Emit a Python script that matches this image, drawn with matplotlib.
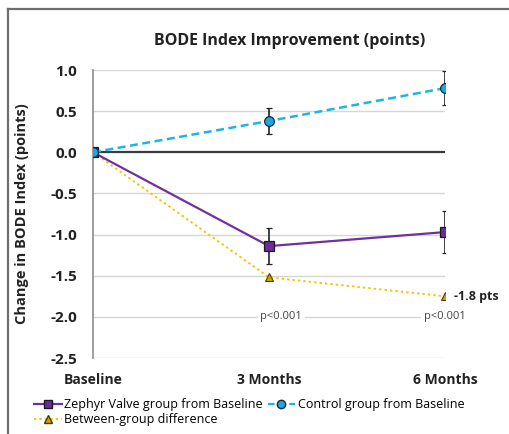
import matplotlib
matplotlib.use("Agg")
import matplotlib.pyplot as plt
from matplotlib.lines import Line2D

plt.rcParams['font.family'] = ['Open Sans', 'DejaVu Sans']

categories = ["Baseline", "3 Months", "6 Months"]
zephyr = [0.0, -1.14, -0.97]
zephyr_err = [0.0, 0.22, 0.26]
control = [0.0, 0.38, 0.78]
control_err = [0.0, 0.16, 0.21]
between = [0.0, -1.52, -1.75]
p_labels = ["p<0.001", "p<0.001"]
end_label = "-1.8 pts"
yticks = [1.0, 0.5, 0.0, -0.5, -1.0, -1.5, -2.0, -2.5]

fig = plt.figure(figsize=(5.09, 4.34), dpi=100)
ax = fig.add_axes([93/509, 1-358/434, (445-93)/509, (358-70)/434])

x = list(range(len(categories)))

for yv in yticks:
    if yv != 0.0:
        ax.axhline(yv, color='#D6D6D6', lw=1.0, zorder=0)
ax.axhline(0.0, color='#3A3A3A', lw=1.6, zorder=1)

ax.plot(x, between, color='#FFC000', lw=1.4, ls=(0, (1.2, 1.6)), marker='^',
        markersize=6, markerfacecolor='#D4A000', markeredgecolor='#4A3A00',
        markeredgewidth=0.8, zorder=3)
ax.errorbar(x, zephyr, yerr=zephyr_err, color='#7030A0', lw=1.6, marker='s',
            markersize=7, markerfacecolor='#6A2C9A', markeredgecolor='#1A1A1A',
            markeredgewidth=0.9, ecolor='#222222', elinewidth=1.2, capsize=2.5,
            capthick=1.2, zorder=4)
ax.errorbar(x, control, yerr=control_err, color='#1DB4EA', lw=1.8, ls=(0, (3.2, 1.8)),
            marker='o', markersize=7, markerfacecolor='#1AA8E0', markeredgecolor='#1A2A3A',
            markeredgewidth=0.9, ecolor='#222222', elinewidth=1.2, capsize=2.5,
            capthick=1.2, zorder=5)

ax.set_xlim(0, 2)
ax.set_ylim(-2.5, 1.0)
ax.set_yticks(yticks)
ax.set_yticklabels([f"{v:.1f}" for v in yticks], fontsize=11, fontweight='bold', color='#222222')
ax.set_xticks(x)
ax.set_xticklabels(categories, fontsize=10, fontweight='bold', color='#222222')
ax.tick_params(axis='both', length=0)
ax.tick_params(axis='y', pad=11.5)
ax.tick_params(axis='x', pad=11)
for s in ['top', 'right', 'bottom']:
    ax.spines[s].set_visible(False)
ax.spines['left'].set_color('#8C8C8C')
ax.spines['left'].set_linewidth(1.2)

ax.set_ylabel("Change in BODE Index (points)", fontsize=10.5, fontweight='bold',
              color='#222222')
ax.yaxis.set_label_coords(-(93 - 29) / 352, 0.5)
ax.set_title("BODE Index Improvement (points)", fontsize=11.5, fontweight='bold',
             color='#222222', pad=18, x=0.56)

ax.text(1.07, -2.0, p_labels[0], fontsize=8, color='#444444', ha='center', va='center',
        bbox=dict(facecolor='white', edgecolor='none', pad=2), zorder=6, clip_on=False)
ax.text(2.0, -2.0, p_labels[1], fontsize=8, color='#444444', ha='center', va='center',
        bbox=dict(facecolor='white', edgecolor='none', pad=2), zorder=6, clip_on=False)
ax.text(2.05, between[2], end_label, fontsize=9, fontweight='bold', color='#222222',
        ha='left', va='center', clip_on=False)

h_z = Line2D([], [], color='#7030A0', lw=1.6, marker='s', markersize=6,
             markerfacecolor='#6A2C9A', markeredgecolor='#1A1A1A')
h_c = Line2D([], [], color='#1DB4EA', lw=1.6, ls=(0, (3, 1.8)), marker='o', markersize=6,
             markerfacecolor='#1AA8E0', markeredgecolor='#1A2A3A')
h_b = Line2D([], [], color='#FFC000', lw=1.4, ls=(0, (1.2, 1.6)), marker='^', markersize=6,
             markerfacecolor='#D4A000', markeredgecolor='#4A3A00')
fig.legend([h_z, h_b, h_c],
           ["Zephyr Valve group from Baseline", "Between-group difference",
            "Control group from Baseline"],
           ncol=2, loc='upper left', bbox_to_anchor=(34/509, 1-398/434), frameon=False,
           fontsize=9, handlelength=2.2, handletextpad=0.2, columnspacing=0.4,
           labelspacing=0.15, borderaxespad=0, borderpad=0)

fig.add_artist(Line2D([8/509, 8/509], [0, 1-9/434], transform=fig.transFigure,
                      color='#6E6E6E', lw=1.6))
fig.add_artist(Line2D([8/509, 1], [1-9/434, 1-9/434], transform=fig.transFigure,
                      color='#6E6E6E', lw=1.6))

fig.savefig("out.png", dpi=100)
